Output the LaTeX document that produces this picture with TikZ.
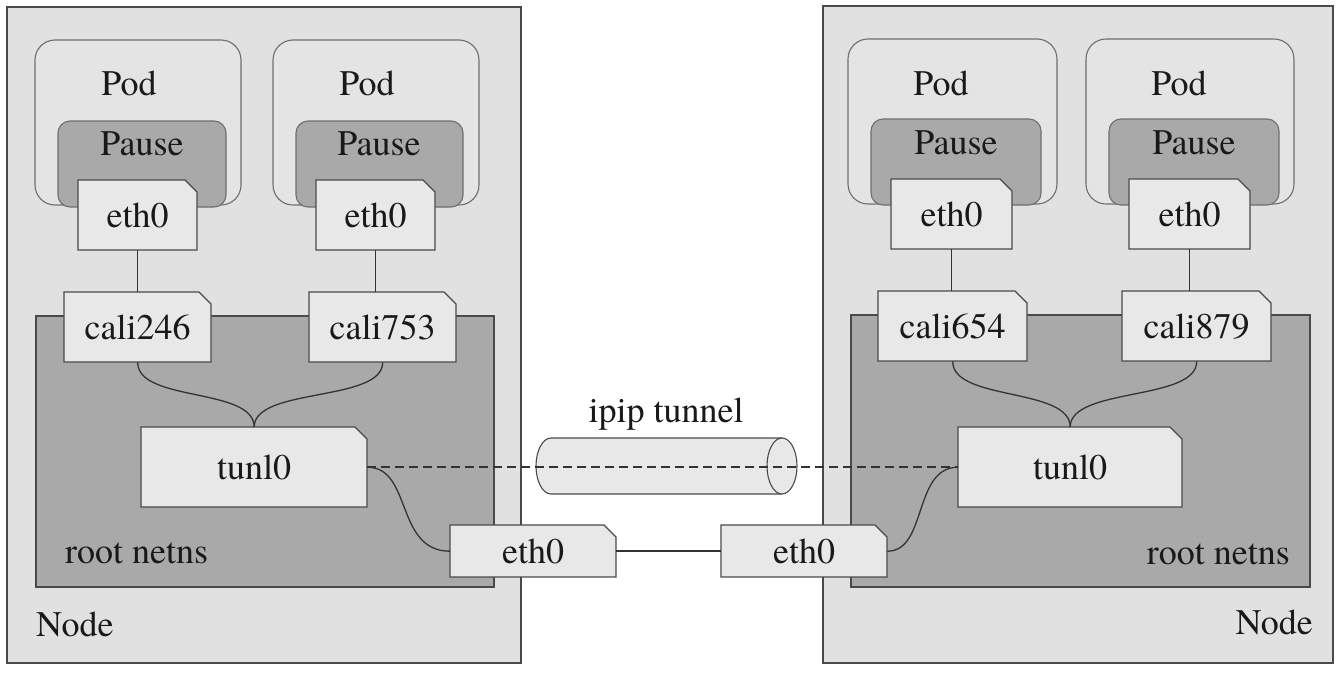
\documentclass[tikz,border=0pt]{standalone}
\usepackage{fontspec}
\setmainfont{texgyretermes-regular.otf}
\definecolor{nodebg}{HTML}{E1E1E1}
\definecolor{podbg}{HTML}{E4E4E4}
\definecolor{darkbg}{HTML}{A9A9A9}
\definecolor{ifbg}{HTML}{E8E8E8}
\definecolor{edge}{HTML}{4A4A4A}
\definecolor{softedge}{HTML}{6E6E6E}
\tikzset{
  nodebox/.style={draw=edge, fill=nodebg, line width=1.3pt},
  netns/.style={draw=edge, fill=darkbg, line width=1.1pt},
  podbox/.style={draw=softedge, fill=podbg, line width=1.1pt, rounded corners=20pt},
  pausebox/.style={draw=softedge, fill=darkbg, line width=1.1pt, rounded corners=12pt},
  ifc/.style={draw=edge, fill=ifbg, line width=1.1pt},
  lbl/.style={font=\fontsize{36}{40}\selectfont, inner sep=0pt, text=black!90},
  wire/.style={draw=black!80, line width=1.3pt},
  cylfill/.style={fill=ifbg},
  cylline/.style={draw=edge, line width=1.1pt},
}
% interface box with cut top-right corner: name, x, y, w, h, text
\newcommand{\netif}[6]{%
  \filldraw[ifc] (#2,#3) -- ++(#4-12,0) -- ++(12,12) -- ++(0,#5-12) -- ++(-#4,0) -- cycle;
  \node[lbl, minimum width=#4pt, minimum height=#5pt, anchor=north west] (#1) at (#2,#3) {#6};
}
\begin{document}
\begin{tikzpicture}[x=1pt, y=-1pt]
\useasboundingbox[fill=white] (0,0) rectangle (1340,672);

% ---------- host boxes ----------
\draw[nodebox] (7,7) rectangle (521,663);
\draw[nodebox] (823,6) rectangle (1333,663);
\draw[netns] (36,316) rectangle (494,587);
\draw[netns] (851,315) rectangle (1310,587);

% ---------- pods ----------
\draw[podbox] (35,40) rectangle (241,205);
\draw[podbox] (273,40) rectangle (479,205);
\draw[podbox] (848,39) rectangle (1057,204);
\draw[podbox] (1086,39) rectangle (1294,204);
\draw[pausebox] (58,121) rectangle (226,207);
\draw[pausebox] (296,121) rectangle (463,207);
\draw[pausebox] (871,119) rectangle (1041,205);
\draw[pausebox] (1109,119) rectangle (1279,205);

\node[lbl, anchor=base] (podL1) at (129,95) {Pod};
\node[lbl, anchor=base] (podL2) at (367,95) {Pod};
\node[lbl, anchor=base] (podR1) at (941,95) {Pod};
\node[lbl, anchor=base] (podR2) at (1179,95) {Pod};
\node[lbl, anchor=base] (pauseL1) at (142,155) {Pause};
\node[lbl, anchor=base] (pauseL2) at (379,155) {Pause};
\node[lbl, anchor=base] (pauseR1) at (956,154) {Pause};
\node[lbl, anchor=base] (pauseR2) at (1194,154) {Pause};

% ---------- interfaces ----------
\netif{eL1}{78}{180}{119}{70}{eth0}
\netif{eL2}{316}{180}{119}{70}{eth0}
\netif{eR1}{891}{179}{121}{70}{eth0}
\netif{eR2}{1129}{179}{121}{70}{eth0}
\netif{cL1}{64}{292}{147}{70}{cali246}
\netif{cL2}{309}{292}{147}{70}{cali753}
\netif{cR1}{878}{291}{149}{70}{cali654}
\netif{cR2}{1122}{291}{149}{70}{cali879}
\netif{tL}{141}{427}{226}{80}{tunl0}
\netif{tR}{958}{427}{224}{80}{tunl0}

% ---------- labels ----------
\node[lbl, anchor=base west] (nsL) at (65,563) {root netns};
\node[lbl, anchor=base east] (nsR) at (1290,564) {root netns};
\node[lbl, anchor=base west] (hostL) at (36,636) {Node};
\node[lbl, anchor=base east] (hostR) at (1313,634) {Node};
\node[lbl, anchor=base] (tunlbl) at (666,422) {ipip tunnel};

% ---------- pod to cali links ----------
\draw[wire] (eL1.south) -- (eL1.south |- cL1.north);
\draw[wire] (eL2.south) -- (eL2.south |- cL2.north);
\draw[wire] (eR1.south) -- (eR1.south |- cR1.north);
\draw[wire] (eR2.south) -- (eR2.south |- cR2.north);

% ---------- cali to tunl0 ----------
\draw[wire] (cL1.south) .. controls ++(0,40) and ++(0,-40) .. (tL.north);
\draw[wire] (cL2.south) .. controls ++(0,40) and ++(0,-40) .. (tL.north);
\draw[wire] (cR1.south) .. controls ++(0,40) and ++(0,-40) .. (tR.north);
\draw[wire] (cR2.south) .. controls ++(0,40) and ++(0,-40) .. (tR.north);

% ---------- cylinder ----------
\fill[cylfill] (782,438) -- (551,438) arc[start angle=270, end angle=90, x radius=15, y radius=28] -- (782,494) -- cycle;
\draw[cylline] (782,438) -- (551,438) arc[start angle=270, end angle=90, x radius=15, y radius=28] -- (782,494);
\filldraw[cylfill, cylline] (782,466) ellipse [x radius=15, y radius=28];

% ---------- host eth0 ----------
\netif{hL}{450}{525}{166}{52}{eth0}
\netif{hR}{721}{525}{166}{52}{eth0}

\draw[wire] (tL.east) .. controls ++(45,0) and ++(-55,0) .. (hL.west);
\draw[wire] (hR.east) .. controls ++(40,0) and ++(-45,0) .. (tR.west);
\draw[wire, line width=1.8pt, dash pattern=on 9pt off 5pt] (tL.east) -- (tR.west);
\draw[wire, line width=2.2pt] (hL.east) -- (hR.west);
\end{tikzpicture}
\end{document}
